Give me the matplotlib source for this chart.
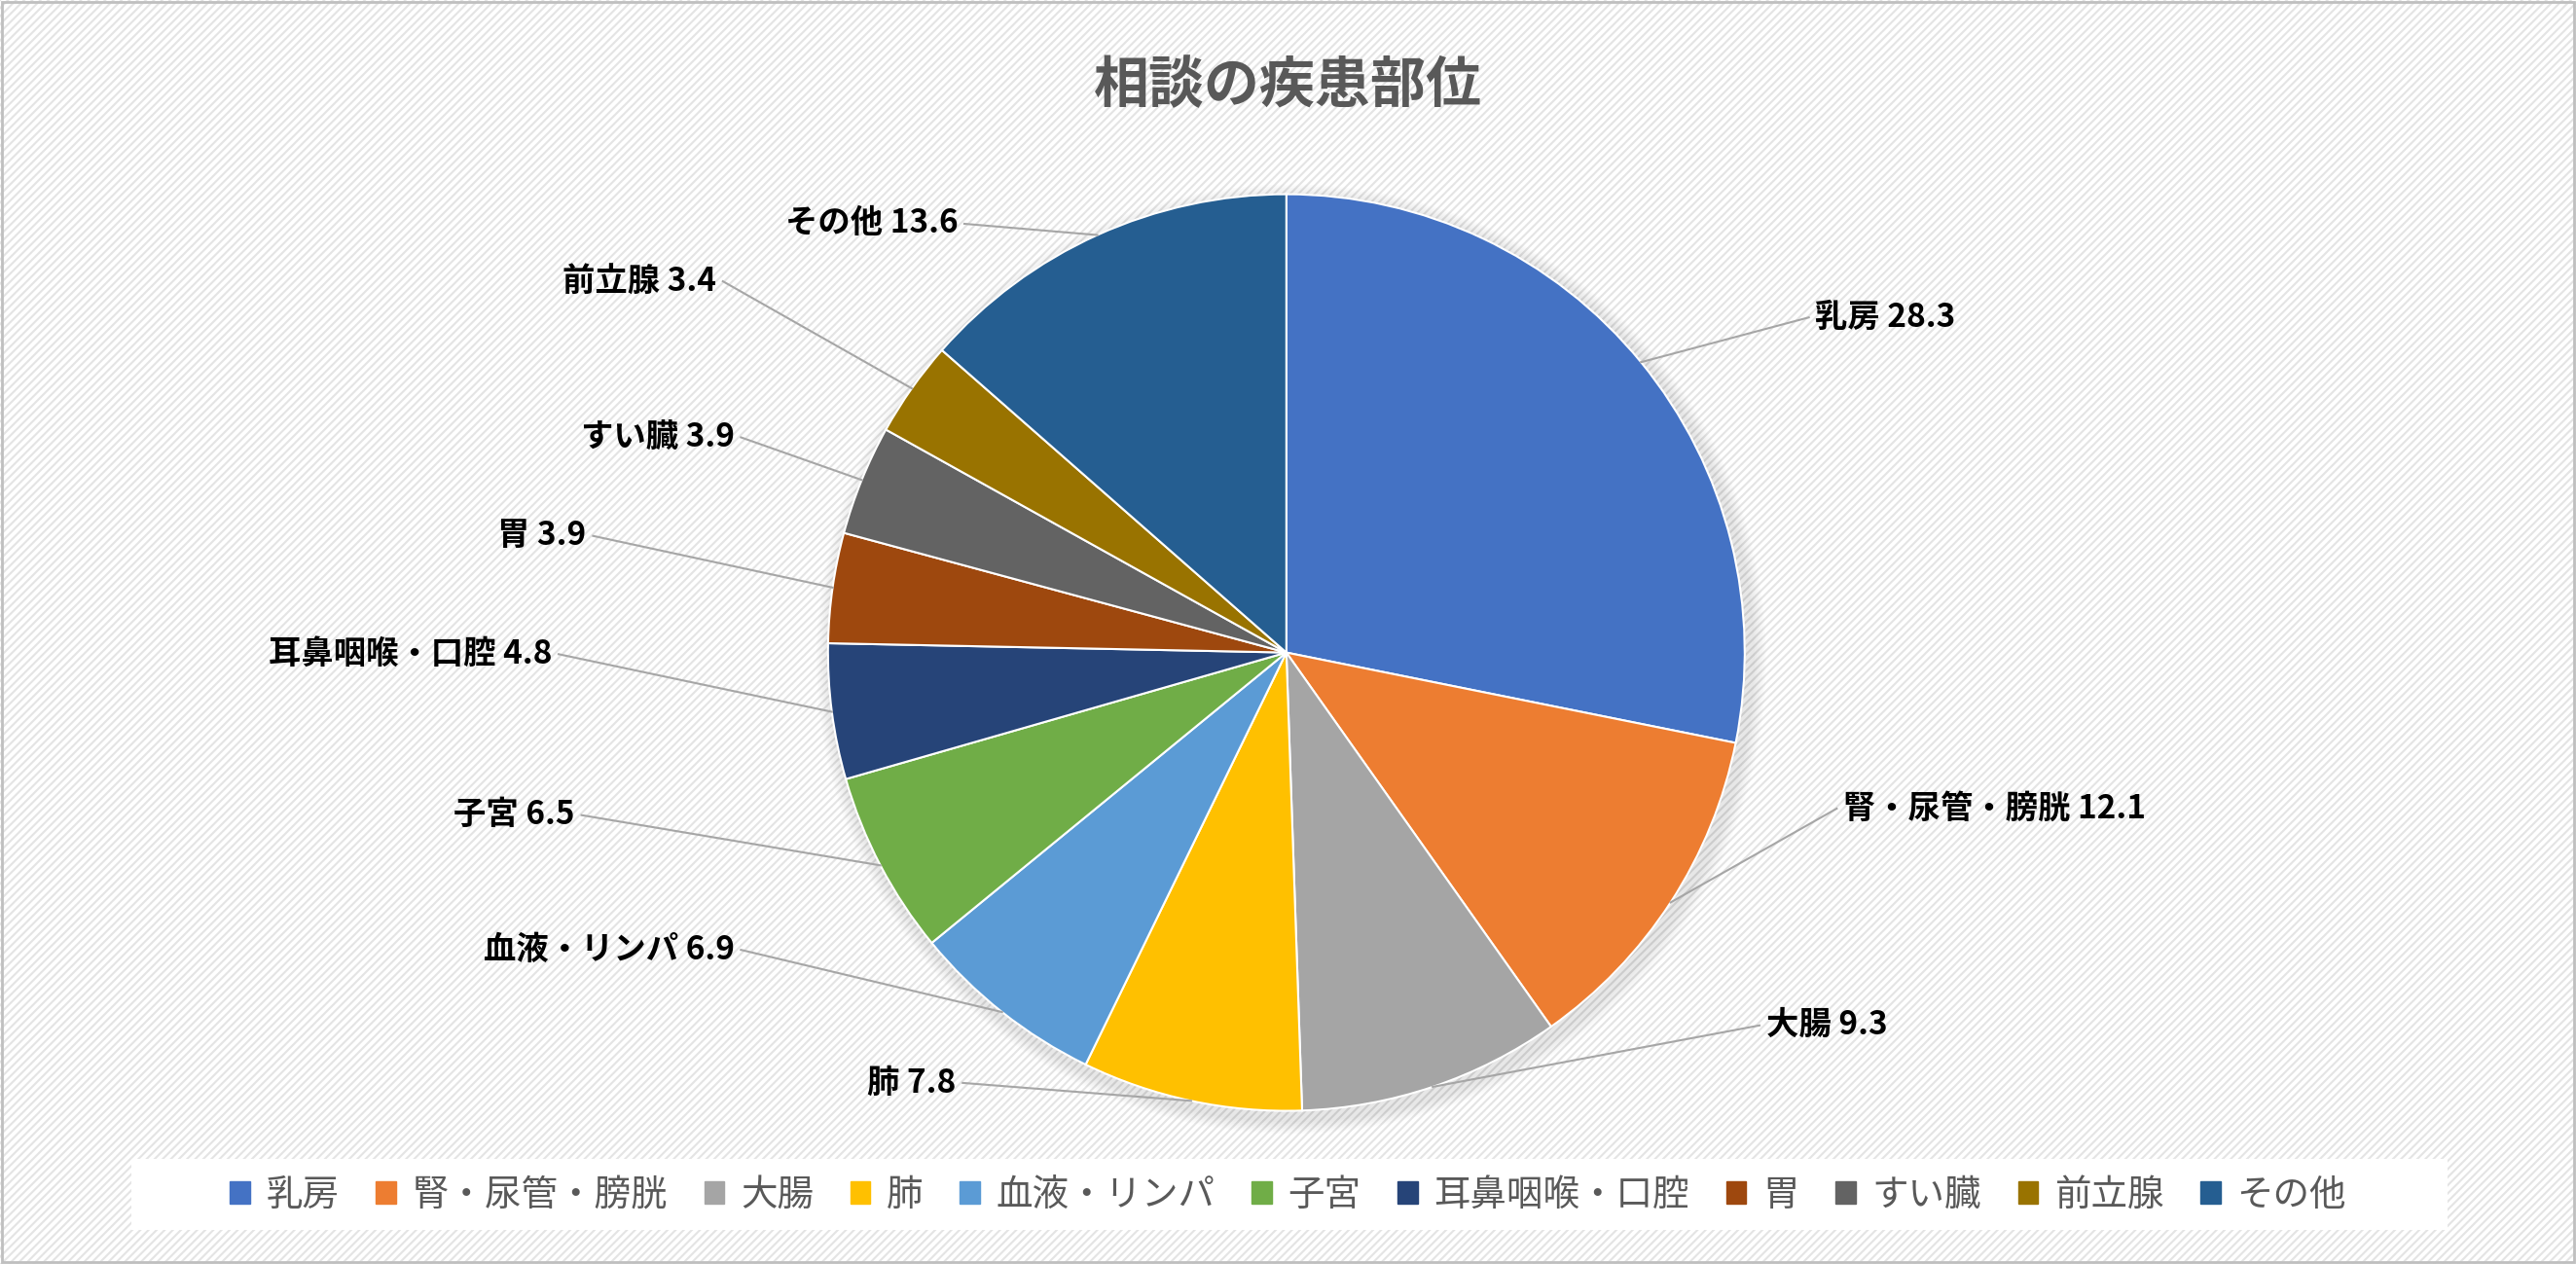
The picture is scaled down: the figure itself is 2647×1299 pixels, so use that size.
import matplotlib
matplotlib.use("Agg")
import matplotlib.pyplot as plt
import numpy as np
from matplotlib.patches import Rectangle

categories = ["乳房", "腎・尿管・膀胱", "大腸", "肺", "血液・リンパ", "子宮", "耳鼻咽喉・口腔", "胃", "すい臓", "前立腺", "その他"]
values = [28.3, 12.1, 9.3, 7.8, 6.9, 6.5, 4.8, 3.9, 3.9, 3.4, 13.6]
colors = ["#4472C4", "#ED7D31", "#A5A5A5", "#FFC000", "#5B9BD5", "#70AD47", "#264478", "#9E480E", "#636363", "#997300", "#255E91"]
# label anchor positions (reference pixel space, 1568x769), alignment
label_pos = [(1105, 193, "left"), (1122, 492, "left"), (1075, 624, "left"), (582, 659, "right"),
             (447, 578, "right"), (350, 496, "right"), (336, 398, "right"), (357, 326, "right"),
             (447, 266, "right"), (436, 171, "right"), (583, 136, "right")]

W, H = 1568, 769
fig = plt.figure(figsize=(26.47, 12.99), dpi=100)
bg = fig.add_axes([0, 0, 1, 1])
bg.set_xlim(0, W); bg.set_ylim(0, H); bg.axis("off")
plt.rcParams["hatch.color"] = "#e4e4e4"
plt.rcParams["hatch.linewidth"] = 1.5
bg.add_patch(Rectangle((0, 0), W, H, facecolor="white", edgecolor="#e4e4e4", hatch="////", lw=0))
bg.add_patch(Rectangle((1, 1), W - 2, H - 2, facecolor="none", edgecolor="#bfbfbf", lw=2))

ax = fig.add_axes([0, 0, 1, 1])
ax.set_xlim(0, W); ax.set_ylim(0, H); ax.axis("off"); ax.set_aspect("equal")
cx, cy, r = 783, H - 397, 279
for i in range(8):
    ax.add_patch(plt.Circle((cx + 3, cy - 4), r + 10 - i, color="black", alpha=0.012, lw=0))
wedges, _ = ax.pie(values, colors=colors, startangle=90, counterclock=False,
                   center=(cx, cy), radius=r, wedgeprops=dict(linewidth=1.5, edgecolor="white"))
ax.set_xlim(0, W); ax.set_ylim(0, H)

font = "Noto Sans CJK JP"
for w, cat, v, (lx, ly, ha) in zip(wedges, categories, values, label_pos):
    ang = np.deg2rad((w.theta1 + w.theta2) / 2)
    ex, ey = cx + r * np.cos(ang), cy + r * np.sin(ang)
    ty = H - ly
    tx = lx - 4 if ha == "left" else lx + 4
    ax.plot([ex, tx], [ey, ty], color="#a6a6a6", lw=1.5)
    ax.text(lx, ty, f"{cat} {v}", ha=ha, va="center", fontsize=24, fontweight="bold",
            family=font, color="black")

ax.text(W / 2, H - 52, "相談の疾患部位", ha="center", va="center", fontsize=41,
        fontweight="bold", family=font, color="#595959")

bg.add_patch(Rectangle((80, H - 748), 1410, 43, facecolor="white", edgecolor="none"))
handles = [Rectangle((0, 0), 1, 1, color=c) for c in colors]
leg = fig.legend(handles, categories, loc="center", bbox_to_anchor=(0.5, 1 - 727 / H), ncol=11,
                 frameon=False, prop={"family": font, "size": 27}, handlelength=0.55, handleheight=0.55,
                 columnspacing=1.0, handletextpad=0.45, labelcolor="#595959")
fig.savefig("out.png", dpi=100)
